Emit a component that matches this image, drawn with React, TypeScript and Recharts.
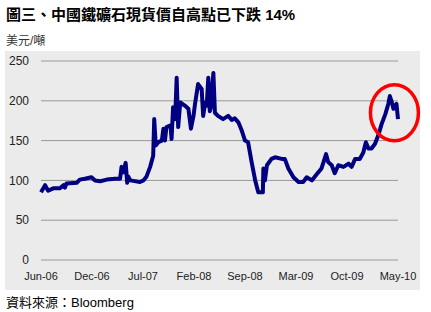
import { LineChart, Line, XAxis, YAxis, CartesianGrid, ReferenceDot } from 'recharts';

// x 以刻度間距為單位 (0 = Jun-06, 7 = May-10)
const xPos = [
  0.00, 0.08, 0.14, 0.24, 0.37, 0.44, 0.47, 0.50, 0.70, 0.76, 0.86, 0.99, 1.06, 1.16, 1.29, 1.45,
  1.55, 1.58, 1.61, 1.66, 1.69, 1.71, 1.75, 1.94, 2.01, 2.07, 2.14, 2.20, 2.22, 2.25, 2.30, 2.37,
  2.40, 2.43, 2.46, 2.54, 2.56, 2.59, 2.63, 2.66, 2.69, 2.73, 2.82, 2.89, 2.94, 2.99, 3.02, 3.08,
  3.15, 3.18, 3.22, 3.25, 3.28, 3.31, 3.33, 3.38, 3.41, 3.47, 3.57, 3.67, 3.74, 3.80, 3.87, 3.94,
  4.00, 4.06, 4.13, 4.20, 4.26, 4.35, 4.36, 4.39, 4.43, 4.52, 4.59, 4.72, 4.78, 4.85, 4.95, 5.05,
  5.14, 5.21, 5.31, 5.41, 5.50, 5.59, 5.63, 5.70, 5.76, 5.83, 5.93, 6.03, 6.09, 6.16, 6.25, 6.32,
  6.37, 6.42, 6.48, 6.55, 6.61, 6.68, 6.75, 6.81, 6.84, 6.88, 6.91, 6.94, 6.97, 7.00
];
const price = [
  85, 94, 87, 90, 90, 94, 91, 96, 97, 101, 102, 104, 100, 99, 101, 102,
  102, 117, 110, 122, 97, 105, 100, 98, 100, 105, 117, 131, 177, 144, 148, 150,
  165, 150, 167, 169, 152, 192, 177, 229, 167, 198, 194, 190, 165, 181, 196, 221,
  215, 181, 198, 194, 229, 187, 192, 235, 185, 181, 177, 181, 176, 178, 173, 162,
  150, 148, 123, 100, 85, 85, 115, 100, 119, 127, 129, 127, 127, 115, 104, 98,
  98, 104, 100, 108, 115, 133, 123, 119, 109, 119, 117, 121, 117, 127, 127, 135,
  148, 140, 140, 146, 156, 171, 183, 196, 206, 198, 190, 194, 196, 177
];
const tickLabels = ['Jun-06', 'Dec-06', 'Jul-07', 'Feb-08', 'Sep-08', 'Mar-09', 'Oct-09', 'May-10'];
const yTicks = [0, 50, 100, 150, 200, 250];

const data = xPos.map((x, i) => ({ x, price: price[i] }));

const font = 'Arial, "Liberation Sans", "Noto Sans CJK TC", sans-serif';

// 紅色橢圓圈出近期高點
const Ellipse = (props: any) => (
  <ellipse cx={props.cx} cy={props.cy} rx={24} ry={28} fill="none" stroke="#ff0000" strokeWidth={3.5} />
);

export default function App() {
  return (
    <div style={{ position: 'absolute', left: 0, top: 0, width: 431, height: 312, background: '#fff', fontFamily: font }}>
      <div style={{ position: 'absolute', left: 6, top: 3, fontSize: 15, fontWeight: 'bold', color: '#000', whiteSpace: 'nowrap' }}>
        圖三、中國鐵礦石現貨價自高點已下跌 14%
      </div>
      <div style={{ position: 'absolute', left: 6, top: 31, fontSize: 12, color: '#333' }}>美元/噸</div>
      <div style={{ position: 'absolute', left: 5, top: 51, width: 415, height: 239, background: '#ebebeb' }} />
      <div style={{ position: 'absolute', left: 0, top: 0 }}>
        <LineChart width={431} height={312} data={data} margin={{ top: 61, right: 33, bottom: 22, left: 0 }}>
          <CartesianGrid vertical={false} stroke="#999" />
          <XAxis
            dataKey="x"
            type="number"
            domain={[0, 7]}
            ticks={[0, 1, 2, 3, 4, 5, 6, 7]}
            tickFormatter={(v: number) => tickLabels[v]}
            axisLine={false}
            tickLine={false}
            tickMargin={6}
            interval={0}
            height={30}
            tick={{ fontSize: 11, fill: '#222', fontFamily: font }}
          />
          <YAxis
            domain={[0, 250]}
            ticks={yTicks}
            width={41}
            axisLine={false}
            tickLine={false}
            tickMargin={6}
            tick={{ fontSize: 12, fill: '#222', fontFamily: font }}
          />
          <Line
            type="linear"
            dataKey="price"
            stroke="#000080"
            strokeWidth={4}
            strokeLinejoin="round"
            dot={false}
            isAnimationActive={false}
          />
          <ReferenceDot x={6.93} y={185} ifOverflow="visible" shape={Ellipse} />
        </LineChart>
      </div>
      <div style={{ position: 'absolute', left: 6, top: 292, fontSize: 13, color: '#000' }}>資料來源：Bloomberg</div>
    </div>
  );
}
